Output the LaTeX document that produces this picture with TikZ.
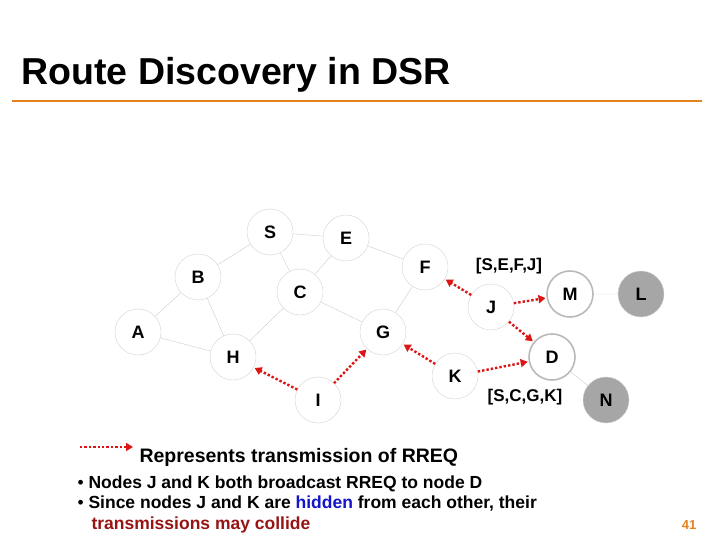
\documentclass[tikz,border=0pt]{standalone}
\usepackage{fontspec}
\setmainfont{Liberation Sans}
\usetikzlibrary{arrows.meta}
\definecolor{orng}{RGB}{230,130,30}
\definecolor{rreq}{RGB}{220,20,20}
\definecolor{hid}{RGB}{20,20,200}
\definecolor{coll}{RGB}{150,20,20}
\begin{document}
\begin{tikzpicture}[x=1pt,y=-1pt,
  nd/.style={circle,draw=gray!35,thin,minimum size=46pt,inner sep=0pt,font=\fontsize{18}{18}\selectfont\bfseries},
  dst/.style={nd,draw=gray!55,line width=1.6pt},
  gry/.style={nd,fill=gray!70},
  ln/.style={gray!40,thin},
  rr/.style={draw=rreq,line width=2.4pt,dotted,-{Triangle[length=7pt,width=8pt,fill=rreq]},shorten >=1pt},
  lbl/.style={font=\fontsize{17}{17}\selectfont\bfseries}]
\useasboundingbox (0,0) rectangle (720,540);
\node[anchor=base west,font=\fontsize{37.5}{37.5}\selectfont\bfseries] (title) at (18,85) {Route Discovery in DSR};
\coordinate (l1) at (12,101); \coordinate (l2) at (702,101);
\draw[orng,line width=1.5pt] (l1) -- (l2);
\node[nd] (S) at (270,232) {S};
\node[nd] (E) at (346,238) {E};
\node[nd] (F) at (425,267) {F};
\node[nd] (B) at (198,277) {B};
\node[nd] (C) at (300,292) {C};
\node[nd] (J) at (491,307) {J};
\node[dst] (M) at (570,294) {M};
\node[gry] (L) at (641,294) {L};
\node[nd] (A) at (138,332) {A};
\node[nd] (G) at (383,332) {G};
\node[nd] (H) at (233,357) {H};
\node[nd] (K) at (455,376) {K};
\node[dst] (D) at (552,357) {D};
\node[nd] (I) at (318,400) {I};
\node[gry] (N) at (606,400) {N};
\draw[ln] (S)--(E) (S)--(B) (S)--(C) (E)--(C) (E)--(F) (B)--(A) (B)--(H) (A)--(H)
  (H)--(C) (C)--(G) (G)--(F) (M)--(L) (D)--(N);
\draw[rr] (J)--(F); \draw[rr] (J)--(M); \draw[rr] (J)--(D);
\draw[rr] (K)--(G); \draw[rr] (K)--(D);
\draw[rr] (I)--(H); \draw[rr] (I)--(G);
\node[lbl] (p1) at (509,266) {[S,E,F,J]};
\node[lbl] (p2) at (525,397) {[S,C,G,K]};
\coordinate (a1) at (80,447); \coordinate (a2) at (134,447);
\draw[rr] (a1)--(a2);
\node[anchor=base west,font=\fontsize{19.5}{19.5}\selectfont\bfseries] (leg) at (136,462) {Represents transmission of RREQ};
\node[anchor=base west,font=\fontsize{17.5}{17.5}\selectfont\bfseries] (b1) at (74,488) {{\mdseries\textbullet} Nodes J and K both broadcast RREQ to node D};
\node[anchor=base west,font=\fontsize{17.5}{17.5}\selectfont\bfseries] (b2) at (74,508) {{\mdseries\textbullet} Since nodes J and K are \textcolor{hid}{hidden} from each other, their};
\node[anchor=base west,font=\fontsize{17.5}{17.5}\selectfont\bfseries,text=coll] (b3) at (88,529) {transmissions may collide};
\node[anchor=base,font=\fontsize{13}{13}\selectfont\bfseries,text=orng] (pg) at (689,529) {41};
\end{tikzpicture}
\end{document}
